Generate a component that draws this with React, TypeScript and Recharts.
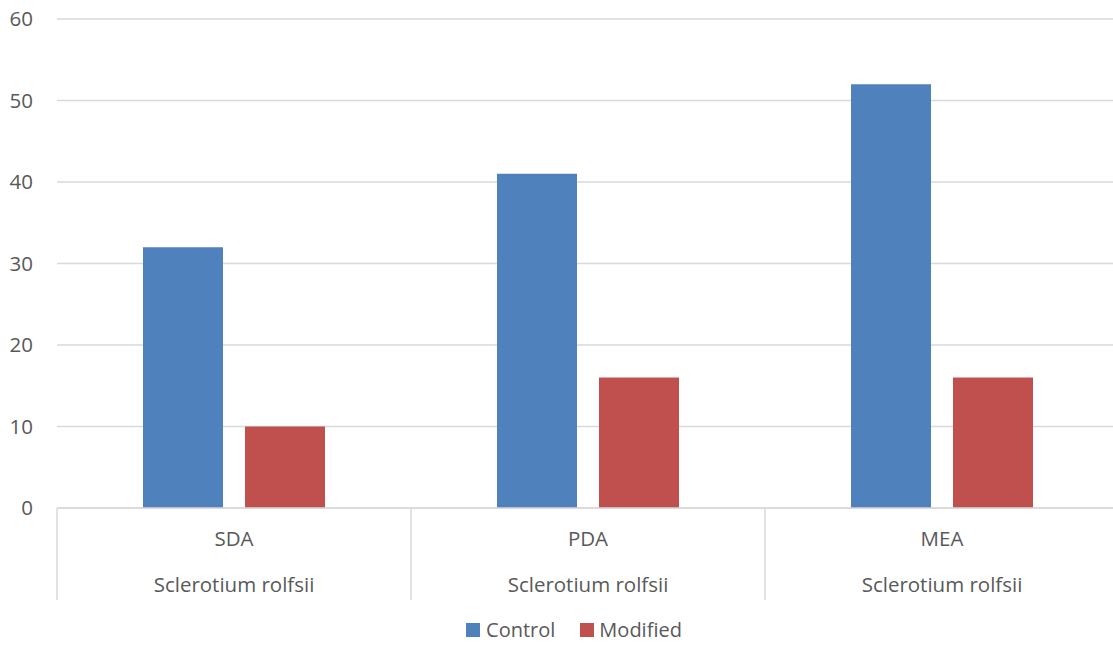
import React from "react";
import { BarChart, Bar, XAxis, YAxis, CartesianGrid, Legend } from "recharts";

const categories = ["SDA", "PDA", "MEA"];
const groupLabel = "Sclerotium rolfsii";
const controlValues = [32, 41, 52];
const modifiedValues = [10, 16, 16];
const yTicks = [0, 10, 20, 30, 40, 50, 60];

const data = categories.map((c, i) => ({
  name: c,
  Control: controlValues[i],
  Modified: modifiedValues[i],
}));

const W = 1113;
const CW = 1119;
const H = 647;
const LEFT = 57;
const BAND = (CW - LEFT) / categories.length;
const FONT = "'Open Sans', sans-serif";
const FS = 20.5;
const TEXT = "#595959";
const BLUE = "#4f81bd";
const RED = "#c0504d";
const GRID = "#d9d9d9";

const XTick = (props: any) => {
  const { x, y, payload } = props;
  const lx = x - BAND / 2;
  return (
    <g>
      <line x1={lx} y1={y} x2={lx} y2={y + 92} stroke={GRID} strokeWidth={1.5} />
      <text x={x} y={y + 38} textAnchor="middle" fill={TEXT} fontSize={FS} fontFamily={FONT}>
        {payload.value}
      </text>
      <text x={x} y={y + 84} textAnchor="middle" fill={TEXT} fontSize={FS} fontFamily={FONT}>
        {groupLabel}
      </text>
    </g>
  );
};

const YTick = (props: any) => {
  const { y, payload } = props;
  return (
    <text x={33} y={y} dy={7} textAnchor="end" fill={TEXT} fontSize={FS} fontFamily={FONT}>
      {payload.value}
    </text>
  );
};

const LegendContent = () => (
  <div
    style={{
      display: "flex",
      justifyContent: "center",
      alignItems: "center",
      height: 42,
      paddingTop: 12,
      paddingLeft: 29,
      boxSizing: "border-box",
      fontFamily: FONT,
      fontSize: 20,
      lineHeight: "28px",
      color: TEXT,
    }}
  >
    <span style={{ display: "flex", alignItems: "center", marginRight: 25 }}>
      <span style={{ width: 14, height: 14, background: BLUE, marginRight: 6, display: "inline-block" }} />
      <span>Control</span>
    </span>
    <span style={{ display: "flex", alignItems: "center" }}>
      <span style={{ width: 14, height: 14, background: RED, marginRight: 5, display: "inline-block" }} />
      <span>Modified</span>
    </span>
  </div>
);

export default function App() {
  return (
    <div style={{ position: "absolute", left: 0, top: 0, width: W, height: H, overflow: "hidden", background: "#fff" }}>
      <BarChart
        width={CW}
        height={H}
        data={data}
        margin={{ top: 19, right: 0, left: 0, bottom: 2 }}
        barCategoryGap={86}
        barGap={22}
      >
        <CartesianGrid horizontal vertical={false} stroke={GRID} strokeWidth={1.5} />
        <YAxis
          width={LEFT}
          domain={[0, 60]}
          ticks={yTicks}
          axisLine={false}
          tickLine={false}
          tick={<YTick />}
          interval={0}
        />
        <XAxis
          dataKey="name"
          height={95}
          tickSize={0}
          tickMargin={0}
          tickLine={false}
          axisLine={{ stroke: GRID, strokeWidth: 1.5 }}
          tick={<XTick />}
          interval={0}
        />
        <Legend verticalAlign="bottom" height={42} content={<LegendContent />} />
        <Bar dataKey="Control" fill={BLUE} isAnimationActive={false} />
        <Bar dataKey="Modified" fill={RED} isAnimationActive={false} />
      </BarChart>
    </div>
  );
}
